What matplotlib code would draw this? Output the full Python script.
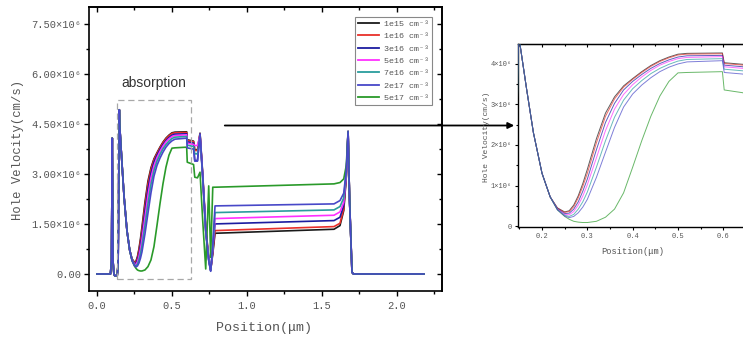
import numpy as np
import matplotlib
matplotlib.use("Agg")
import matplotlib.pyplot as plt
from matplotlib.ticker import MultipleLocator, FuncFormatter, FixedLocator
from matplotlib.patches import Rectangle, FancyArrowPatch

MONO = ['Liberation Mono', 'DejaVu Sans Mono']
GREY = '#555555'

# position grid (um), shared by every doping curve
pos = [0.00, 0.090, 0.097, 0.102, 0.107, 0.113, 0.118, 0.135, 0.141, 0.145,
       0.149, 0.151, 0.166, 0.181, 0.200, 0.218,
       0.234, 0.250, 0.260, 0.270, 0.280, 0.290, 0.300, 0.320, 0.340, 0.360,
       0.380, 0.400, 0.420, 0.440, 0.460, 0.480, 0.500, 0.520, 0.598,
       0.602, 0.644, 0.652, 0.670, 0.687, 0.705, 0.725, 0.745, 0.758, 0.772, 0.787,
       1.580, 1.620, 1.645, 1.662, 1.674, 1.684, 1.700, 1.710, 2.180]

# hole velocity in units of 1e6 cm/s
head = [0.0, 0.0, 0.4, 4.07, 0.4, 0.0, -0.05, -0.05, 0.3, 2.6,
        4.92, 4.5, 3.37, 2.3, 1.3, 0.72]

v_1e15 = head + [0.45, 0.35, 0.38, 0.52, 0.75, 1.05, 1.40, 2.15, 2.78, 3.18,
                 3.45, 3.63, 3.80, 3.95, 4.07, 4.16, 4.23, 4.25, 4.26,
                 4.02, 3.98, 3.72, 3.72, 4.22, 3.00, 1.40, 0.50, 0.12, 0.60, 1.22,
                 1.34, 1.45, 1.90, 2.90, 4.27, 2.20, 0.05, 0.0, 0.0]
v_1e16 = head + [0.44, 0.34, 0.36, 0.48, 0.70, 0.98, 1.30, 2.05, 2.70, 3.13,
                 3.42, 3.61, 3.78, 3.93, 4.05, 4.14, 4.21, 4.23, 4.24,
                 4.00, 3.96, 3.70, 3.70, 4.20, 2.95, 1.35, 0.45, 0.12, 0.65, 1.30,
                 1.42, 1.52, 1.95, 2.92, 4.27, 2.20, 0.05, 0.0, 0.0]
v_3e16 = head + [0.43, 0.31, 0.32, 0.42, 0.60, 0.86, 1.16, 1.88, 2.55, 3.02,
                 3.35, 3.56, 3.73, 3.88, 4.00, 4.09, 4.16, 4.19, 4.20,
                 3.96, 3.92, 3.40, 3.40, 4.18, 2.90, 1.30, 0.42, 0.10, 0.70, 1.50,
                 1.60, 1.70, 2.05, 2.95, 4.27, 2.20, 0.05, 0.0, 0.0]
v_5e16 = head + [0.42, 0.29, 0.28, 0.36, 0.52, 0.74, 1.02, 1.68, 2.35, 2.88,
                 3.24, 3.48, 3.67, 3.83, 3.96, 4.05, 4.12, 4.15, 4.17,
                 3.92, 3.88, 3.85, 3.85, 4.15, 2.92, 1.32, 0.44, 0.11, 0.75, 1.66,
                 1.76, 1.86, 2.15, 3.00, 4.27, 2.20, 0.05, 0.0, 0.0]
v_7e16 = head + [0.41, 0.27, 0.24, 0.29, 0.42, 0.60, 0.84, 1.45, 2.10, 2.68,
                 3.10, 3.38, 3.58, 3.75, 3.88, 3.98, 4.06, 4.10, 4.12,
                 3.86, 3.82, 3.60, 3.60, 4.12, 2.88, 1.28, 0.42, 0.10, 0.80, 1.84,
                 1.92, 2.02, 2.28, 3.05, 4.27, 2.20, 0.05, 0.0, 0.0]
v_2e17 = head + [0.40, 0.25, 0.21, 0.24, 0.33, 0.47, 0.66, 1.20, 1.82, 2.43,
                 2.93, 3.25, 3.47, 3.65, 3.80, 3.91, 3.99, 4.04, 4.07,
                 3.78, 3.74, 3.38, 3.38, 4.20, 2.95, 1.30, 0.40, 0.08, 0.85, 2.04,
                 2.10, 2.20, 2.42, 3.10, 4.27, 2.20, 0.05, 0.0, 0.0]
v_5e17 = head + [0.40, 0.24, 0.17, 0.12, 0.10, 0.09, 0.09, 0.12, 0.22, 0.42,
                 0.82, 1.45, 2.10, 2.70, 3.20, 3.56, 3.77, 3.78, 3.80,
                 3.35, 3.28, 2.90, 2.88, 3.05, 1.60, 0.15, 2.64, 0.50, 2.60, 2.60,
                 2.70, 2.74, 2.85, 3.25, 4.27, 2.20, 0.05, 0.0, 0.0]

labels = ['1e15 cm⁻³', '1e16 cm⁻³', '3e16 cm⁻³', '5e16 cm⁻³',
          '7e16 cm⁻³', '2e17 cm⁻³', '5e17 cm⁻³']
series = [v_1e15, v_1e16, v_3e16, v_5e16, v_7e16, v_2e17, v_5e17]
colors = ['#1a1a1a', '#e8302a', '#1c1ca0', '#ff30ff', '#2a9d9d', '#4848c8', '#2a9a2a']
zorders = [2, 2, 2, 2, 2, 4, 3]

x = np.array(pos)

fig = plt.figure(figsize=(7.43, 3.41), dpi=100)
W, H = 743, 341

# ---------------- main plot ----------------
ax = fig.add_axes([89 / W, 1 - 291 / H, 353 / W, 284 / H])
for v, lab, c, z in zip(series, labels, colors, zorders):
    ax.plot(x, np.array(v) * 1e6, color=c, lw=1.2, label=lab, zorder=z)

ax.set_xlim(-0.053, 2.3)
ax.set_ylim(-0.51e6, 8.0e6)
ax.xaxis.set_major_locator(MultipleLocator(0.5))
ax.xaxis.set_minor_locator(MultipleLocator(0.25))
ax.yaxis.set_major_locator(FixedLocator([0, 1.5e6, 3.0e6, 4.5e6, 6.0e6, 7.5e6]))
ax.yaxis.set_minor_locator(MultipleLocator(0.75e6))
ax.xaxis.set_major_formatter(FuncFormatter(lambda v, p: f'{v:.1f}'))
ax.yaxis.set_major_formatter(FuncFormatter(
    lambda v, p: '0.00' if abs(v) < 1 else f'{v / 1e6:.2f}×10⁶'))
ax.tick_params(which='both', direction='out', width=1.0, colors='black',
               labelcolor=GREY, labelsize=7.5)
ax.tick_params(which='major', length=3.5)
ax.tick_params(which='minor', length=2)
ax.tick_params(axis='x', pad=4)
ax.tick_params(axis='y', pad=2)
for t in ax.get_xticklabels() + ax.get_yticklabels():
    t.set_family(MONO)
for s in ax.spines.values():
    s.set_linewidth(1.2)

# mirrored ticks pointing inwards
secx = ax.secondary_xaxis('top')
secx.xaxis.set_major_locator(MultipleLocator(0.5))
secx.xaxis.set_minor_locator(MultipleLocator(0.25))
secx.tick_params(which='both', direction='in', labeltop=False, width=1.0)
secx.tick_params(which='major', length=3.5)
secx.tick_params(which='minor', length=2)
secx.spines['top'].set_linewidth(1.2)
secy = ax.secondary_yaxis('right')
secy.yaxis.set_major_locator(FixedLocator([0, 1.5e6, 3.0e6, 4.5e6, 6.0e6, 7.5e6]))
secy.yaxis.set_minor_locator(MultipleLocator(0.75e6))
secy.tick_params(which='both', direction='in', labelright=False, width=1.0)
secy.tick_params(which='major', length=3.5)
secy.tick_params(which='minor', length=2)
secy.spines['right'].set_linewidth(1.2)

leg = ax.legend(loc='upper right', bbox_to_anchor=(0.972, 0.965),
                prop={'family': MONO, 'size': 6}, labelcolor=GREY,
                handlelength=2.6, labelspacing=0.55, borderpad=0.35,
                handletextpad=0.6, borderaxespad=0, fancybox=False,
                edgecolor='#888888', framealpha=1)
leg.get_frame().set_linewidth(0.8)
for ln in leg.get_lines():
    ln.set_linewidth(1.3)

ax.add_patch(Rectangle((0.135, -0.14e6), 0.494, 5.36e6, fill=False,
                       edgecolor='#a8a8a8', lw=0.9, ls=(0, (5, 3)), zorder=5))
ax.text(0.38, 5.72e6, 'absorption', family=['Liberation Sans', 'DejaVu Sans'],
        fontsize=10, color='#333333', ha='center', va='center')

fig.text(18 / W, 1 - 150 / H, 'Hole Velocity(cm/s)', rotation=90, family=MONO,
         fontsize=8.8, color=GREY, ha='center', va='center')
fig.text(264 / W, 1 - 328 / H, 'Position(μm)', family=MONO,
         fontsize=9.6, color=GREY, ha='center', va='center')

# ---------------- zoomed inset ----------------
ins = fig.add_axes([518 / W, 1 - 227 / H, 247 / W, 183 / H])
for v, c, z in zip(series, colors, zorders):
    ins.plot(x, np.array(v) * 1e6, color=c, lw=0.7, alpha=0.7, zorder=z)
ins.set_xlim(0.147, 0.692)
ins.set_ylim(-0.02e6, 4.48e6)
ins.xaxis.set_major_locator(MultipleLocator(0.1))
ins.xaxis.set_minor_locator(MultipleLocator(0.05))
ins.yaxis.set_major_locator(MultipleLocator(1e6))
ins.yaxis.set_minor_locator(MultipleLocator(0.5e6))
ins.xaxis.set_major_formatter(FuncFormatter(lambda v, p: f'{v:.1f}'))
ins.yaxis.set_major_formatter(FuncFormatter(
    lambda v, p: '0' if abs(v) < 1 else f'{v / 1e6:.0f}×10⁶'))
ins.tick_params(which='both', direction='out', width=0.8, labelcolor=GREY,
                labelsize=5)
ins.tick_params(which='major', length=2.5, pad=2)
ins.tick_params(which='minor', length=1.5)
for t in ins.get_xticklabels() + ins.get_yticklabels():
    t.set_family(MONO)
for s in ins.spines.values():
    s.set_linewidth(1.0)
sx = ins.secondary_xaxis('top')
sx.xaxis.set_major_locator(MultipleLocator(0.1))
sx.xaxis.set_minor_locator(MultipleLocator(0.05))
sx.tick_params(which='both', direction='in', labeltop=False, width=0.8)
sx.tick_params(which='major', length=2.5)
sx.tick_params(which='minor', length=1.5)

fig.text(486 / W, 1 - 137 / H, 'Hole Velocity(cm/s)', rotation=90, family=MONO,
         fontsize=5.8, color=GREY, ha='center', va='center')
fig.text(633 / W, 1 - 252 / H, 'Position(μm)', family=MONO,
         fontsize=6.3, color=GREY, ha='center', va='center')

# arrow linking the absorption region to the inset
fig.add_artist(FancyArrowPatch((222 / W, 1 - 125.5 / H), (517 / W, 1 - 125.5 / H),
                               transform=fig.transFigure, arrowstyle='-|>',
                               mutation_scale=9, lw=1.3, color='black'))

fig.savefig('out.png', dpi=100)
